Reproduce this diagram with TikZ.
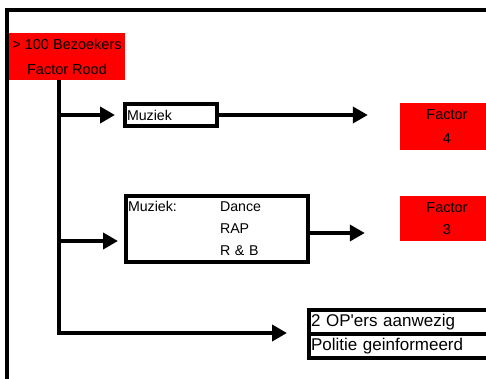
\documentclass[tikz,border=0pt]{standalone}
\usepackage{fontspec}
\setmainfont{Liberation Sans}
\usetikzlibrary{arrows.meta}
\definecolor{alarmred}{RGB}{255,0,0}
\begin{document}
\begin{tikzpicture}[x=1pt,y=-1pt,
  thickline/.style={line width=4pt},
  arr/.style={line width=4pt,-{Triangle[length=15pt,width=16pt]}},
  redbox/.style={fill=alarmred,draw=none,inner sep=0pt,align=center},
  whitebox/.style={draw,line width=4pt,inner xsep=2pt,inner ysep=0pt,align=left,
    font=\fontsize{14.2}{22}\selectfont},
  opbox/.style={draw,line width=4pt,inner xsep=2pt,inner ysep=0pt,
    minimum width=183pt,minimum height=24pt,text width=179pt,align=left,
    font=\fontsize{17}{20}\selectfont}
]
\useasboundingbox (0,0) rectangle (486,379);
\begin{scope}
\clip (0,0) rectangle (486,379);

% outer frame (top and left edges)
\draw[thickline] (492,10) -- (7,10) -- (7,385);

% red factor boxes
\node[redbox,minimum width=116pt,minimum height=47pt,font=\fontsize{14.5}{25}\selectfont]
  (bez) at (67,56.5) {> 100 Bezoekers\\Factor Rood};
\node[redbox,minimum width=94pt,minimum height=47pt,font=\fontsize{14.5}{24}\selectfont]
  (f4) at (447,126.5) {Factor\\4};
\node[redbox,minimum width=94pt,minimum height=45pt,font=\fontsize{14.5}{22}\selectfont]
  (f3) at (447,218.5) {Factor\\3};

% music boxes
\node[whitebox,minimum width=92pt,minimum height=22pt,text width=88pt]
  (muz1) at (171,115) {Muziek};
\node[whitebox,minimum width=182pt,minimum height=64pt,text width=178pt]
  (muz2) at (217,229) {\renewcommand{\arraystretch}{1}%
  \raisebox{-1pt}{\begin{tabular}{@{}p{92pt}@{}l@{}}
  Muziek: & Dance\\
          & RAP\\
          & R \& B
  \end{tabular}}};

% measures box
\node[opbox] (ops1) at (400.5,322) {2 OP\textquotesingle ers aanwezig};
\node[opbox] (ops2) at (400.5,346) {Politie geinformeerd};

% trunk and branches
\coordinate (t0) at (59,80);
\coordinate (t1) at (59,115);
\coordinate (t2) at (59,241);
\coordinate (t3) at (59,333);
\coordinate (m2out) at ([yshift=-4pt]muz2.east);
\draw[arr,shorten >=20pt] (t0) -- (t3) -- (ops1.south west |- t3);
\draw[arr,shorten >=8pt] (t1) -- (muz1.west |- t1);
\draw[arr,shorten >=6pt] (t2) -- (muz2.west |- t2);
\draw[arr,shorten >=32pt] (muz1.east) -- (f4.west |- muz1.east);
\draw[arr,shorten >=35pt] (m2out) -- (f3.west |- m2out);
\end{scope}
\end{tikzpicture}
\end{document}
